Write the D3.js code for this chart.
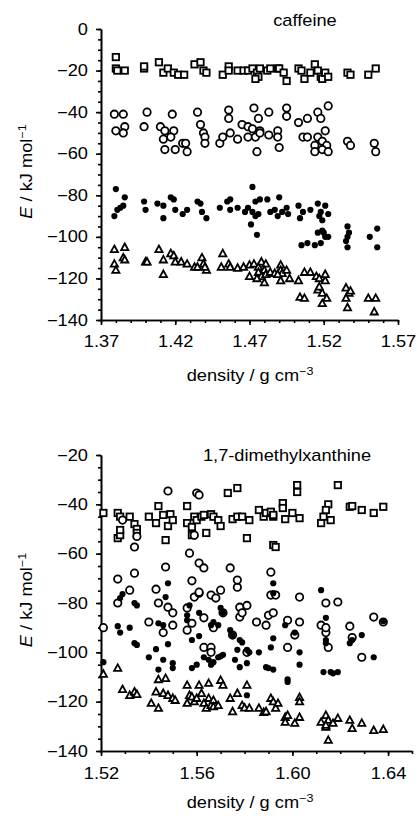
<!DOCTYPE html>
<html>
<head>
<meta charset="utf-8">
<script src="https://cdn.jsdelivr.net/npm/d3@7"></script>
<style>
  body { margin: 0; background: #fff; }
  svg { display: block; font-family: "Liberation Sans", Arial, sans-serif; }
  .axis path, .axis line { stroke: #000; stroke-width: 1.6; }
  .axis text { font-size: 16px; fill: #000; }
</style>
</head>
<body>
<script>
// ---- caffeine panel: [density, E] ----
const caffSquares = [
  [1.380,-13.5],[1.380,-19],[1.381,-20],[1.386,-20],[1.399,-19],[1.399,-18],[1.409,-16],[1.412,-21],
  [1.415,-19],[1.419,-21],[1.422,-22],[1.426,-22],[1.433,-17],[1.437,-16],[1.439,-20],[1.441,-21],
  [1.452,-22],[1.456,-18],[1.456,-20],[1.462,-20],[1.466,-20],[1.469,-20],[1.472,-19],[1.475,-21],
  [1.476,-23],[1.474,-24],[1.477,-19],[1.482,-20],[1.484,-19],[1.489,-19],[1.490,-19],[1.493,-21],
  [1.495,-25],[1.503,-19],[1.505,-20],[1.507,-24],[1.511,-21],[1.514,-17],[1.516,-20],[1.518,-23],
  [1.519,-24],[1.521,-21],[1.523,-23],[1.536,-21],[1.538,-22],[1.550,-22],[1.555,-19]
];
const caffCircles = [
  [1.379,-41],[1.385,-41],[1.401,-40],[1.418,-41],[1.435,-40],[1.456,-39],[1.456,-43],[1.473,-38],
  [1.476,-43],[1.483,-40],[1.495,-38],[1.495,-42],[1.503,-45],[1.509,-43],[1.516,-40],[1.518,-43],
  [1.523,-37],[1.380,-49],[1.386,-47],[1.385,-50],[1.399,-47],[1.410,-47],[1.413,-49],[1.419,-49],
  [1.437,-46],[1.439,-50],[1.465,-46],[1.469,-47],[1.472,-48],[1.477,-49],[1.489,-49],[1.521,-49],
  [1.412,-53],[1.417,-52],[1.413,-58],[1.420,-58],[1.425,-55],[1.427,-55],[1.428,-59],[1.440,-52],
  [1.440,-55],[1.450,-55],[1.452,-52],[1.457,-50],[1.462,-53],[1.469,-52],[1.474,-52],[1.475,-59],
  [1.477,-50],[1.483,-51],[1.489,-52],[1.490,-57],[1.506,-52],[1.509,-52],[1.514,-56],[1.516,-52],
  [1.519,-54],[1.522,-56],[1.514,-59],[1.519,-58],[1.523,-59],[1.536,-54],[1.538,-56],[1.554,-55],
  [1.555,-59]
];
const caffDots = [
  [1.380,-77],[1.379,-90],[1.381,-87],[1.383,-86],[1.385,-85],[1.386,-81],[1.399,-83],[1.400,-87],
  [1.408,-84],[1.412,-85],[1.412,-91],[1.417,-81],[1.419,-82],[1.420,-87],[1.425,-89],[1.428,-87],
  [1.435,-83],[1.437,-84],[1.438,-88],[1.441,-91],[1.450,-86],[1.455,-83],[1.457,-82],[1.457,-87],
  [1.462,-86],[1.467,-88],[1.469,-86],[1.472,-76],[1.474,-83],[1.472,-88],[1.474,-90],[1.471,-94],
  [1.476,-89],[1.477,-82],[1.475,-99],[1.482,-82],[1.484,-88],[1.487,-87],[1.490,-81],[1.489,-90],
  [1.492,-88],[1.495,-86],[1.496,-89],[1.503,-85],[1.504,-91],[1.506,-88],[1.511,-87],[1.516,-84],
  [1.517,-90],[1.519,-92],[1.521,-85],[1.523,-89],[1.518,-88],
  [1.505,-104],[1.509,-103],[1.514,-104],[1.518,-103],[1.519,-97],[1.516,-98],[1.520,-98],[1.521,-100],
  [1.523,-100],[1.536,-95],[1.537,-98],[1.536,-100],[1.535,-102],[1.536,-105],[1.551,-100],[1.556,-96],
  [1.556,-105]
];
const caffTriangles = [
  [1.379,-106],[1.386,-105],[1.385,-110],[1.386,-111],[1.379,-113],[1.380,-116],
  [1.400,-112],[1.401,-112],[1.409,-106],[1.412,-111],[1.412,-118],[1.417,-108],[1.419,-109],
  [1.420,-112],[1.424,-112],[1.428,-113],[1.433,-114.5],[1.435,-114.5],[1.438,-110],[1.439,-113],
  [1.441,-116],[1.440,-114.5],[1.452,-108],[1.451,-114.5],[1.456,-113],[1.457,-114.5],[1.462,-115],
  [1.466,-114.5],[1.470,-113.5],[1.470,-119],
  [1.473,-113],[1.476,-114.5],[1.478,-112],[1.481,-113],[1.480,-116],[1.476,-117],[1.478,-119],
  [1.481,-118],[1.480,-122],[1.475,-120],[1.484,-117],[1.487,-117.5],[1.491,-113.5],[1.491,-116],
  [1.492,-117.5],[1.495,-116],[1.497,-120],[1.491,-121],[1.489,-118],[1.503,-121],[1.507,-117],
  [1.511,-117],[1.504,-129],[1.507,-129.5],[1.515,-119],[1.517,-120],[1.521,-121],[1.516,-125.5],
  [1.519,-127],[1.522,-129.5],[1.519,-132],[1.521,-118],[1.517,-124],[1.535,-124.5],[1.537,-127],
  [1.535,-129.5],[1.536,-134],[1.538,-126],[1.550,-129.5],[1.555,-129.5],[1.554,-136]
];

// ---- 1,7-dimethylxanthine panel: [density, E] ----
const dmxSquares = [
  [1.521,-43.5],[1.527,-43.5],[1.528,-45],[1.527,-53.7],[1.528,-52.5],[1.528,-50.4],[1.532,-45],
  [1.534,-48],[1.535,-50],[1.535,-51.6],[1.540,-45],[1.543,-47.6],[1.544,-40.7],[1.546,-44.3],
  [1.548,-48.8],[1.549,-44],[1.550,-46.4],[1.547,-54.5],[1.556,-40.7],[1.556,-47.6],[1.558,-49.2],
  [1.558,-52.5],[1.559,-45],[1.560,-46.4],[1.562,-45],[1.563,-44.3],[1.564,-51.6],[1.566,-44],
  [1.567,-45],[1.569,-46.4],[1.570,-48.8],[1.573,-35.4],[1.575,-46],[1.577,-33.4],[1.577,-45],
  [1.579,-45],[1.581,-53.7],[1.582,-46.4],[1.586,-42.3],[1.588,-45],[1.589,-43.5],[1.591,-43],
  [1.592,-56.5],[1.593,-57.3],[1.592,-45],[1.592,-44.3],[1.596,-39.5],[1.596,-41.5],[1.597,-46],
  [1.600,-43.5],[1.602,-32.2],[1.602,-35],[1.603,-45.6],[1.612,-47.6],[1.613,-45],[1.615,-40],
  [1.614,-42.3],[1.616,-46.4],[1.619,-32.2],[1.624,-41],[1.625,-40.7],[1.629,-42.3],[1.634,-43.5],
  [1.638,-41]
];
const dmxCircles = [
  [1.529,-46.4],[1.534,-57.3],[1.535,-53],[1.548,-34.6],[1.560,-35.4],[1.561,-36.2],[1.557,-59.8],
  [1.559,-52.5],[1.521,-90],[1.527,-70.3],[1.527,-80],[1.532,-74.8],[1.534,-67.9],[1.540,-87.7],
  [1.543,-74.4],[1.544,-80],[1.546,-92],[1.548,-81.7],[1.550,-84],[1.550,-89],[1.547,-65.4],
  [1.558,-71],[1.556,-82],[1.556,-91],[1.558,-88.2],[1.559,-77.6],[1.561,-76],[1.561,-75.6],
  [1.563,-86],[1.563,-98],[1.566,-98],[1.566,-100],[1.567,-90],[1.561,-63.8],[1.563,-65.8],
  [1.566,-76.8],[1.568,-78],[1.570,-74.8],[1.571,-84],[1.574,-65.8],[1.575,-93],[1.577,-73.6],
  [1.577,-70.7],[1.578,-81.7],[1.578,-85.7],[1.579,-84],[1.581,-100],[1.581,-81],[1.585,-87.7],
  [1.589,-89],[1.590,-85],[1.591,-67.5],[1.591,-76.8],[1.593,-76.8],[1.592,-84],[1.598,-87],
  [1.598,-98],[1.601,-93],[1.603,-77.6],[1.603,-87.7],[1.612,-89],[1.614,-92],[1.614,-80],
  [1.614,-90],[1.615,-98],[1.619,-79.6],[1.624,-89.4],[1.625,-94],[1.629,-102],[1.634,-85.7],
  [1.638,-87.7]
];
const dmxDots = [
  [1.521,-104],[1.527,-89.4],[1.528,-92],[1.528,-78],[1.529,-76.4],[1.532,-90],[1.534,-96.3],
  [1.535,-97],[1.534,-80],[1.535,-81],[1.540,-102],[1.543,-98.7],[1.544,-107],[1.546,-103],
  [1.548,-72],[1.547,-77.6],[1.548,-96.7],[1.550,-106.4],[1.550,-104.4],[1.544,-88.2],[1.546,-89],
  [1.556,-87],[1.556,-85],[1.558,-95],[1.557,-81],[1.558,-106.4],[1.560,-105],[1.561,-84],
  [1.561,-93.4],[1.563,-102],[1.565,-103],[1.566,-105],[1.567,-104],[1.569,-102],[1.570,-101.6],
  [1.571,-101],[1.567,-87.7],[1.566,-89],[1.569,-89],[1.570,-82],[1.571,-84],[1.574,-91],
  [1.575,-93],[1.576,-103],[1.577,-99],[1.578,-95],[1.579,-96],[1.578,-106],[1.581,-104.4],
  [1.581,-99],[1.582,-100],[1.586,-100],[1.589,-106],[1.590,-106.4],[1.592,-107],[1.591,-98],
  [1.592,-94.3],[1.592,-76],[1.592,-72],[1.597,-89],[1.601,-92],[1.603,-100],[1.603,-105],
  [1.598,-111],[1.612,-74.8],[1.614,-86],[1.614,-95],[1.614,-96.3],[1.613,-108],[1.616,-108],
  [1.617,-108.5],[1.619,-108],[1.624,-96.3],[1.625,-95],[1.629,-93],[1.634,-102],[1.638,-87.4],
  [1.598,-112],[1.581,-117.4]
];
const dmxTriangles = [
  [1.521,-108.8],[1.527,-106.4],[1.544,-111],[1.547,-110.5],[1.556,-113.3],[1.561,-113.3],
  [1.565,-112.5],[1.570,-111.3],[1.571,-113.3],[1.581,-113.3],
  [1.529,-115],[1.532,-117.4],[1.534,-116],[1.535,-117],[1.541,-120.6],[1.543,-116],[1.544,-122.6],
  [1.546,-116.6],[1.548,-117.4],[1.550,-118.6],[1.551,-119.4],
  [1.556,-120.6],[1.557,-117.4],[1.558,-118],[1.559,-120],[1.560,-118.6],[1.562,-116.6],
  [1.563,-120.6],[1.564,-122.6],[1.565,-118.6],[1.566,-121.5],[1.567,-119.4],[1.567,-122],
  [1.569,-121.5],[1.574,-118.6],[1.575,-124],[1.577,-116.6],[1.579,-121.5],[1.580,-122.5],
  [1.582,-122.6],[1.586,-122.6],[1.588,-124.3],[1.589,-124],[1.591,-118.6],[1.592,-120],
  [1.593,-122.6],[1.594,-120.6],[1.597,-126.3],[1.597,-128.3],[1.598,-125.5],[1.601,-128.7],
  [1.603,-126.3],[1.603,-118.2],[1.603,-120],[1.612,-128.3],[1.614,-130.3],[1.614,-125.5],
  [1.615,-127.5],[1.617,-128.7],[1.619,-126.7],[1.615,-135.6],[1.614,-129.5],[1.624,-127.5],
  [1.625,-130.8],[1.629,-128.7],[1.634,-131.6],[1.638,-131.2]
];

// ---- axis ticks ----
const caffXTicks = [1.37, 1.42, 1.47, 1.52, 1.57];
const caffYTicks = [0, -20, -40, -60, -80, -100, -120, -140];
const dmxXTicks = [1.52, 1.56, 1.60, 1.64];
const dmxYTicks = [-20, -40, -60, -80, -100, -120, -140];

const W = 417, H = 816;
const SX = 1.14; // text in the scan is horizontally stretched
const minus = (s) => String(s).replace("-", "\u2212");

const svg = d3.select("body").append("svg").attr("width", W).attr("height", H);

function panel(opt) {
  const x = d3.scaleLinear().domain(opt.xDomain).range([101, opt.xRight]);
  const y = d3.scaleLinear().domain(opt.yDomain).range([opt.yBottom, opt.yTop]);
  const g = svg.append("g");

  // minor ticks
  const xMinor = d3.range(Math.round(opt.xDomain[0] * 100), Math.round(opt.xDomain[1] * 100) + 1).map(v => v / 100);
  const yMinor = d3.range(opt.yDomain[0], opt.yDomain[1] + 1, 5);
  g.append("g").attr("class", "axis")
    .attr("transform", `translate(0,${opt.yBottom})`)
    .call(d3.axisBottom(x).tickValues(xMinor).tickSize(3).tickSizeOuter(0).tickFormat(""));
  g.append("g").attr("class", "axis")
    .attr("transform", "translate(101,0)")
    .call(d3.axisLeft(y).tickValues(yMinor).tickSize(3).tickSizeOuter(0).tickFormat(""));

  // major ticks
  const xa = g.append("g").attr("class", "axis")
    .attr("transform", `translate(0,${opt.yBottom})`)
    .call(d3.axisBottom(x).tickValues(opt.xTicks).tickSize(5).tickSizeOuter(0)
      .tickFormat(d => d.toFixed(2)));
  xa.selectAll("text").attr("y", 0).attr("dy", null)
    .attr("transform", `translate(0,${opt.xLabelY}) scale(${SX},1)`);
  const ya = g.append("g").attr("class", "axis")
    .attr("transform", "translate(101,0)")
    .call(d3.axisLeft(y).tickValues(opt.yTicks).tickSize(5).tickSizeOuter(0)
      .tickFormat(d => minus(d)));
  ya.selectAll("text").attr("x", 0)
    .attr("transform", `translate(-13,0) scale(${SX},1)`);
  g.selectAll(".axis path.domain").attr("stroke-width", 1.8);

  // marks
  const pts = g.append("g").attr("stroke", "#000").attr("stroke-width", 1.8);
  pts.selectAll(".sq").data(opt.squares).join("rect").attr("class", "sq")
    .attr("x", d => x(d[0]) - 3.2).attr("y", d => y(d[1]) - 3.2)
    .attr("width", 6.4).attr("height", 6.4).attr("fill", "#fff");
  pts.selectAll(".ci").data(opt.circles).join("circle").attr("class", "ci")
    .attr("cx", d => x(d[0])).attr("cy", d => y(d[1])).attr("r", 3.7).attr("fill", "#fff");
  pts.selectAll(".tr").data(opt.triangles).join("path").attr("class", "tr")
    .attr("transform", d => `translate(${x(d[0])},${y(d[1])})`)
    .attr("d", "M0,-3.8L3.6,2.8L-3.6,2.8Z").attr("fill", "#fff").attr("stroke-linejoin", "miter");
  pts.selectAll(".dt").data(opt.dots).join("circle").attr("class", "dt")
    .attr("cx", d => x(d[0])).attr("cy", d => y(d[1])).attr("r", 3.1).attr("fill", "#000").attr("stroke", "none");

  // titles
  g.append("text").attr("text-anchor", "middle").attr("font-size", 16)
    .attr("transform", `translate(${opt.titleX},${opt.titleY}) scale(${SX},1)`)
    .text(opt.title);

  const xt = g.append("text").attr("text-anchor", "middle").attr("font-size", 16)
    .attr("transform", `translate(250,${opt.xTitleY}) scale(${SX},1)`);
  xt.append("tspan").text("density / g cm");
  xt.append("tspan").attr("dy", -6).attr("font-size", 11).text("\u22123");

  const yt = g.append("text").attr("text-anchor", "middle").attr("font-size", 16)
    .attr("transform", `translate(32,${(opt.yTop + opt.yBottom) / 2 - 3}) rotate(-90) scale(${SX},1)`);
  yt.append("tspan").attr("font-style", "italic").text("E");
  yt.append("tspan").text(" / kJ mol");
  yt.append("tspan").attr("dy", -6).attr("font-size", 11).text("\u22121");
}

panel({
  xDomain: [1.37, 1.57], xRight: 398, yDomain: [-140, 0], yTop: 29, yBottom: 320,
  xTicks: caffXTicks, yTicks: caffYTicks, xLabelY: 27, xTitleY: 381,
  title: "caffeine", titleX: 305, titleY: 26,
  squares: caffSquares, circles: caffCircles, dots: caffDots, triangles: caffTriangles
});

panel({
  xDomain: [1.52, 1.65], xRight: 412, yDomain: [-140, -20], yTop: 455, yBottom: 751,
  xTicks: dmxXTicks, yTicks: dmxYTicks, xLabelY: 28, xTitleY: 808,
  title: "1,7-dimethylxanthine", titleX: 287, titleY: 461,
  squares: dmxSquares, circles: dmxCircles, dots: dmxDots, triangles: dmxTriangles
});
</script>
</body>
</html>
